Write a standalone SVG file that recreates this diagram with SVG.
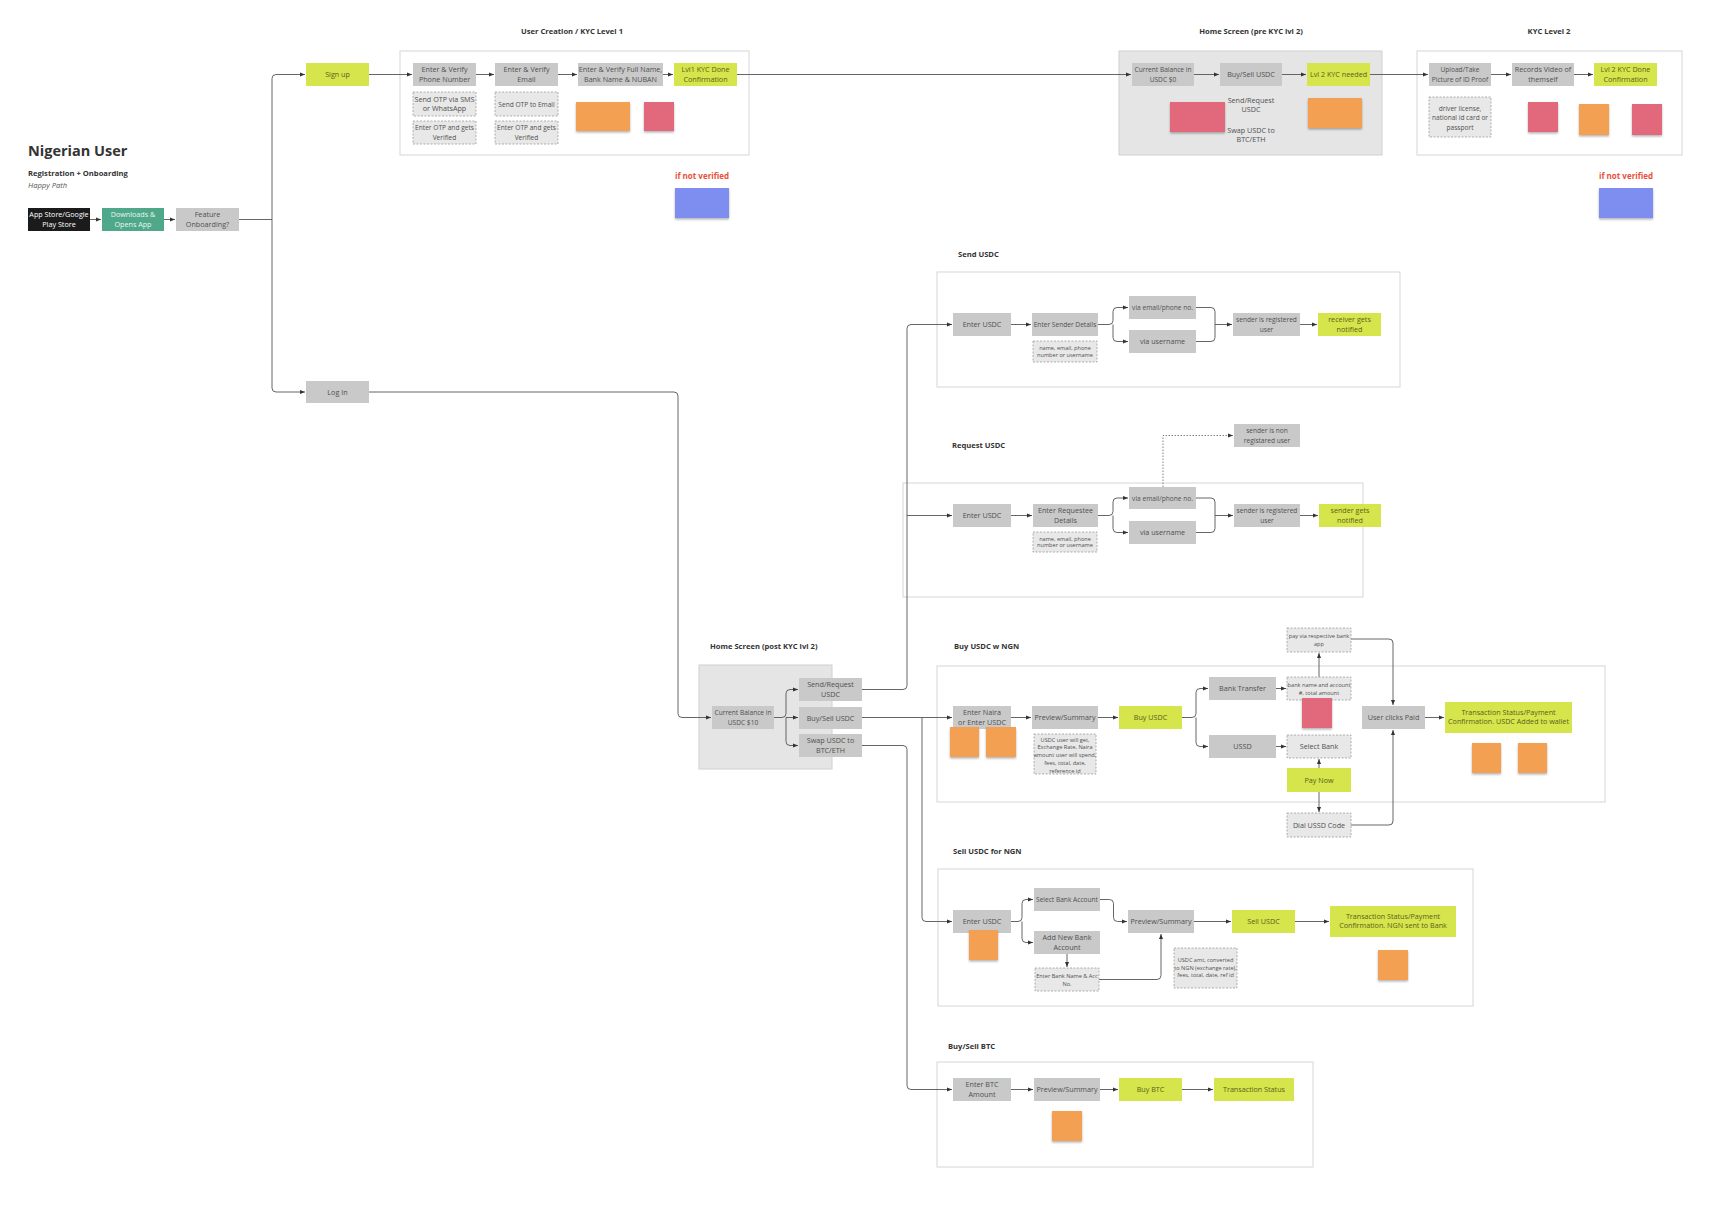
<svg xmlns="http://www.w3.org/2000/svg" width="1728" height="1216" viewBox="0 0 1728 1216">
<defs>
<style>
text{font-family:"Open Sans","Liberation Sans",sans-serif}
.bg{fill:#fff}
.c{fill:#fff;stroke:#d6d6d6;stroke-width:1}
.cg{fill:#e5e5e5;stroke:#d0d0d0;stroke-width:1}
.n{fill:#c9c9c9}
.d{fill:#e8e8e8;stroke:#9c9c9c;stroke-width:0.8;stroke-dasharray:2 1.5}
.g{fill:#d5e54b}
.t{font-size:7.2px;fill:#505050;text-anchor:middle}
.tn{font-size:6.6px}
.ts{font-size:5.6px;fill:#505050;text-anchor:middle}
.tg{font-size:7.2px;fill:#5a6120;text-anchor:middle}
.h{font-size:7.6px;font-weight:700;fill:#333}
.hc{text-anchor:middle}
.red{font-size:8px;font-weight:700;fill:#e8503a;text-anchor:middle}
.so{fill:#f4a052;filter:url(#sh)}
.sp{fill:#e2697c;filter:url(#sh)}
.sb{fill:#7d8df0;filter:url(#sh)}
.e{fill:none;stroke:#555;stroke-width:0.9;marker-end:url(#a)}
.l{fill:none;stroke:#555;stroke-width:0.9}
.dot{fill:none;stroke:#777;stroke-width:0.9;stroke-dasharray:1.5 1.5;marker-end:url(#a)}
</style>
<marker id="a" viewBox="0 0 6 6" refX="6" refY="3" markerWidth="5" markerHeight="5" orient="auto" markerUnits="userSpaceOnUse"><path d="M0,0.6 L6,3 L0,5.4z" fill="#333"/></marker>
<filter id="sh" x="-20%" y="-20%" width="140%" height="150%"><feDropShadow dx="0" dy="1.5" stdDeviation="1" flood-color="#000" flood-opacity="0.3"/></filter>
</defs>
<rect class="bg" x="0" y="0" width="1728" height="1216"/>

<g id="titles">
<text x="28" y="156" style="font-size:14.5px;font-weight:700;fill:#333">Nigerian User</text>
<text x="28" y="176" class="h">Registration + Onboarding</text>
<text x="28" y="188" style="font-size:7.6px;font-style:italic;fill:#555">Happy Path</text>
<text x="572" y="34" class="h hc">User Creation / KYC Level 1</text>
<text x="1251" y="34" class="h hc">Home Screen (pre KYC lvl 2)</text>
<text x="1549" y="34" class="h hc">KYC Level 2</text>
<text x="958" y="257" class="h">Send USDC</text>
<text x="952" y="448" class="h">Request USDC</text>
<text x="710" y="649" class="h">Home Screen (post KYC lvl 2)</text>
<text x="954" y="649" class="h">Buy USDC w NGN</text>
<text x="953" y="854" class="h">Sell USDC for NGN</text>
<text x="948" y="1049" class="h">Buy/Sell BTC</text>
<text x="702" y="179" class="red">if not verified</text>
<text x="1626" y="179" class="red">if not verified</text>
</g>

<g id="containers">
<rect class="c" x="400" y="51" width="349" height="104"/>
<rect class="cg" x="1119" y="51" width="263" height="104"/>
<rect class="c" x="1417" y="51" width="265" height="104"/>
<rect class="c" x="937" y="272" width="463" height="115"/>
<rect class="c" x="903" y="483" width="460" height="114"/>
<rect class="cg" x="699" y="665" width="133" height="104"/>
<rect class="c" x="937" y="666" width="668" height="136"/>
<rect class="c" x="938" y="869" width="535" height="137"/>
<rect class="c" x="937" y="1062" width="376" height="105"/>
</g>

<g id="connectors">
<path class="e" d="M90,219.5 H101"/>
<path class="e" d="M164,219.5 H175"/>
<path class="l" d="M239,219.5 H272"/>
<path class="e" d="M272,219.5 V78.5 Q272,74.5 276,74.5 H305"/>
<path class="e" d="M272,219.5 V388 Q272,392 276,392 H305"/>
<path class="e" d="M369,74.5 H412"/>
<path class="e" d="M476,74.5 H494"/>
<path class="e" d="M558,74.5 H577"/>
<path class="e" d="M663,74.5 H673"/>
<path class="e" d="M737,74.5 H1131"/>
<path class="e" d="M1194,74.5 H1219"/>
<path class="e" d="M1282,74.5 H1306"/>
<path class="e" d="M1370,74.5 H1428"/>
<path class="e" d="M1491,74.5 H1511"/>
<path class="e" d="M1574,74.5 H1593"/>
<path class="e" d="M369,392 H674 Q678,392 678,396 V713.5 Q678,717.5 682,717.5 H711"/>
<path class="e" d="M774,717.5 H782 Q786,717.5 786,713.5 V693.5 Q786,689.5 790,689.5 H798"/>
<path class="e" d="M786,717.5 H798"/>
<path class="e" d="M786,717.5 V741.5 Q786,745.5 790,745.5 H798"/>
<path class="e" d="M862,689.5 H903 Q907,689.5 907,685.5 V328.5 Q907,324.5 911,324.5 H952"/>
<path class="e" d="M907,515.5 H952"/>
<path class="e" d="M862,717.5 H952"/>
<path class="e" d="M922,717.5 V917.5 Q922,921.5 926,921.5 H952"/>
<path class="e" d="M862,745.5 H903 Q907,745.5 907,749.5 V1085.5 Q907,1089.5 911,1089.5 H952"/>
<path class="e" d="M1011,324.5 H1031"/>
<path class="e" d="M1098,324.5 H1109 Q1113,324.5 1113,320.5 V311.5 Q1113,307.5 1117,307.5 H1128"/>
<path class="e" d="M1113,324.5 V337.5 Q1113,341.5 1117,341.5 H1128"/>
<path class="l" d="M1196,307.5 H1211 Q1215,307.5 1215,311.5 V337.5 Q1215,341.5 1211,341.5 H1196"/>
<path class="e" d="M1215,324.5 H1232"/>
<path class="e" d="M1300,324.5 H1317"/>
<path class="e" d="M1011,515.5 H1032"/>
<path class="e" d="M1098,515.5 H1109 Q1113,515.5 1113,511.5 V502 Q1113,498 1117,498 H1128"/>
<path class="e" d="M1113,515.5 V528.5 Q1113,532.5 1117,532.5 H1128"/>
<path class="l" d="M1196,498 H1211 Q1215,498 1215,502 V528.5 Q1215,532.5 1211,532.5 H1196"/>
<path class="e" d="M1215,515.5 H1233"/>
<path class="e" d="M1300,515.5 H1318"/>
<path class="dot" d="M1163,487 V435.5 H1233"/>
<path class="e" d="M1011,717.5 H1031"/>
<path class="e" d="M1098,717.5 H1118"/>
<path class="e" d="M1182,717.5 H1192 Q1196,717.5 1196,713.5 V692.5 Q1196,688.5 1200,688.5 H1208"/>
<path class="e" d="M1196,717.5 V742.5 Q1196,746.5 1200,746.5 H1208"/>
<path class="e" d="M1276,688.5 H1286"/>
<path class="e" d="M1276,746.5 H1286"/>
<path class="e" d="M1319,677 V653"/>
<path class="e" d="M1319,768 V759"/>
<path class="e" d="M1319,792 V812"/>
<path class="e" d="M1351,639 H1389 Q1393,639 1393,643 V705"/>
<path class="e" d="M1351,825 H1389 Q1393,825 1393,821 V730"/>
<path class="e" d="M1425,717.5 H1444"/>
<path class="e" d="M1011,921.5 H1018 Q1022,921.5 1022,917.5 V903.5 Q1022,899.5 1026,899.5 H1033"/>
<path class="e" d="M1022,921.5 V938.5 Q1022,942.5 1026,942.5 H1033"/>
<path class="e" d="M1100,899.5 H1109.5 Q1113.5,899.5 1113.5,903.5 V917.5 Q1113.5,921.5 1117.5,921.5 H1127"/>
<path class="e" d="M1067,954 V967"/>
<path class="e" d="M1099,979.5 H1157 Q1161,979.5 1161,975.5 V934"/>
<path class="e" d="M1194,921.5 H1231"/>
<path class="e" d="M1295,921.5 H1329"/>
<path class="e" d="M1011,1089.5 H1033"/>
<path class="e" d="M1100,1089.5 H1118"/>
<path class="e" d="M1182,1089.5 H1213"/>
</g>

<g id="n-appstore"><rect x="28" y="208" width="62" height="23" fill="#1b1b1b"/><text class="t" style="fill:#fff" x="59" y="217.3">App Store/Google<tspan x="59" dy="9.3">Play Store</tspan></text></g>
<g id="n-downloads"><rect x="102" y="208" width="62" height="23" fill="#4fa88a"/><text class="t" style="fill:#e9f5ef" x="133" y="217.3">Downloads &amp;<tspan x="133" dy="9.3">Opens App</tspan></text></g>
<g id="n-feature"><rect class="n" x="176" y="208" width="63" height="23"/><text class="t" x="207.5" y="217.3">Feature<tspan x="207.5" dy="9.3">Onboarding?</tspan></text></g>
<g id="n-signup"><rect class="g" x="306" y="63" width="63" height="23"/><text class="tg" x="337.5" y="77">Sign up</text></g>
<g id="n-login"><rect class="n" x="306" y="381" width="63" height="22"/><text class="t" x="337.5" y="394.5">Log In</text></g>

<g id="n-phone"><rect class="n" x="413" y="63" width="63" height="23"/><text class="t" x="444.5" y="72.3">Enter  &amp; Verify<tspan x="444.5" dy="9.3">Phone Number</tspan></text></g>
<g id="n-otp-sms"><rect class="d" x="413" y="92" width="63" height="24"/><text class="t" x="444.5" y="101.7">Send OTP via SMS<tspan x="444.5" dy="9.3">or WhatsApp</tspan></text></g>
<g id="n-otp-verify1"><rect class="d" x="413" y="121" width="63" height="23"/><text class="t tn" x="444.5" y="130.3">Enter OTP and gets<tspan x="444.5" dy="9.3">Verified</tspan></text></g>
<g id="n-email"><rect class="n" x="495" y="63" width="63" height="23"/><text class="t" x="526.5" y="72.3">Enter &amp; Verify<tspan x="526.5" dy="9.3">Email</tspan></text></g>
<g id="n-otp-email"><rect class="d" x="495" y="92" width="63" height="24"/><text class="t tn" x="526.5" y="106.5">Send OTP to Email</text></g>
<g id="n-otp-verify2"><rect class="d" x="495" y="121" width="63" height="23"/><text class="t tn" x="526.5" y="130.3">Enter OTP and gets<tspan x="526.5" dy="9.3">Verified</tspan></text></g>
<g id="n-fullname"><rect class="n" x="578" y="63" width="85" height="23"/><text class="t" x="620.5" y="72.3">Enter &amp; Verify Full Name,<tspan x="620.5" dy="9.3">Bank Name &amp; NUBAN</tspan></text></g>
<g id="n-lvl1"><rect class="g" x="674" y="63" width="63" height="23"/><text class="tg" x="705.5" y="72.3">Lvl1 KYC Done<tspan x="705.5" dy="9.3">Confirmation</tspan></text></g>
<g id="s-kyc1"><rect class="so" x="576" y="102" width="54" height="29"/><rect class="sp" x="644" y="102" width="30" height="29"/><rect class="sb" x="675" y="188" width="54" height="30"/></g>

<g id="n-bal0"><rect class="n" x="1132" y="63" width="62" height="23"/><text class="t tn" x="1163" y="72.3">Current Balance in<tspan x="1163" dy="9.3">USDC $0</tspan></text></g>
<g id="n-buysell0"><rect class="n" x="1220" y="63" width="62" height="23"/><text class="t" x="1251" y="77">Buy/Sell USDC</text></g>
<g id="n-lvl2needed"><rect class="g" x="1307" y="63" width="63" height="23"/><text class="tg" x="1338.5" y="77">Lvl 2 KYC needed</text></g>
<g id="n-sendreq0"><text class="t" x="1251" y="103">Send/Request<tspan x="1251" dy="9.3">USDC</tspan></text></g>
<g id="n-swap0"><text class="t" x="1251" y="133">Swap USDC to<tspan x="1251" dy="9.3">BTC/ETH</tspan></text></g>
<g id="s-home0"><rect class="sp" x="1170" y="102" width="55" height="30"/><rect class="so" x="1308" y="98" width="54" height="30"/></g>

<g id="n-upload"><rect class="n" x="1429" y="63" width="62" height="23"/><text class="t tn" x="1460" y="72.3">Upload/Take<tspan x="1460" dy="9.3">Picture of ID Proof</tspan></text></g>
<g id="n-video"><rect class="n" x="1512" y="63" width="62" height="23"/><text class="t" x="1543" y="72.3">Records Video of<tspan x="1543" dy="9.3">themself</tspan></text></g>
<g id="n-lvl2done"><rect class="g" x="1594" y="63" width="63" height="23"/><text class="tg" x="1625.5" y="72.3">Lvl 2 KYC Done<tspan x="1625.5" dy="9.3">Confirmation</tspan></text></g>
<g id="n-driver"><rect class="d" x="1429" y="97" width="62" height="40"/><text class="t tn" x="1460" y="110.5">driver license,<tspan x="1460" dy="9.5">national id card or</tspan><tspan x="1460" dy="9.5">passport</tspan></text></g>
<g id="s-kyc2"><rect class="sp" x="1528" y="102" width="30" height="30"/><rect class="so" x="1579" y="104" width="30" height="31"/><rect class="sp" x="1632" y="104" width="30" height="31"/><rect class="sb" x="1599" y="188" width="54" height="30"/></g>

<g id="n-enter-usdc-s"><rect class="n" x="953" y="313" width="58" height="23"/><text class="t" x="982" y="327">Enter USDC</text></g>
<g id="n-sender-details"><rect class="n" x="1032" y="313" width="66" height="23"/><text class="t tn" x="1065" y="327">Enter Sender Details</text></g>
<g id="n-name-s"><rect class="d" x="1033" y="341" width="64" height="21"/><text class="ts" x="1065" y="350">name, email, phone<tspan x="1065" dy="6.8">number or username</tspan></text></g>
<g id="n-via-email-s"><rect class="n" x="1129" y="296" width="67" height="23"/><text class="t tn" x="1162.5" y="310">via email/phone no.</text></g>
<g id="n-via-user-s"><rect class="n" x="1129" y="330" width="67" height="23"/><text class="t" x="1162.5" y="344">via username</text></g>
<g id="n-reg-s"><rect class="n" x="1233" y="313" width="67" height="23"/><text class="t tn" x="1266.5" y="322.3">sender is registered<tspan x="1266.5" dy="9.3">user</tspan></text></g>
<g id="n-notified-s"><rect class="g" x="1318" y="313" width="63" height="23"/><text class="tg" x="1349.5" y="322.3">receiver gets<tspan x="1349.5" dy="9.3">notified</tspan></text></g>

<g id="n-enter-usdc-r"><rect class="n" x="953" y="504" width="58" height="23"/><text class="t" x="982" y="518">Enter USDC</text></g>
<g id="n-requestee"><rect class="n" x="1033" y="504" width="65" height="23"/><text class="t" x="1065.5" y="513.3">Enter Requestee<tspan x="1065.5" dy="9.3">Details</tspan></text></g>
<g id="n-name-r"><rect class="d" x="1033" y="532" width="64" height="20"/><text class="ts" x="1065" y="540.5">name, email, phone<tspan x="1065" dy="6.8">number or username</tspan></text></g>
<g id="n-via-email-r"><rect class="n" x="1129" y="487" width="67" height="22"/><text class="t tn" x="1162.5" y="500.5">via email/phone no.</text></g>
<g id="n-via-user-r"><rect class="n" x="1129" y="521" width="67" height="23"/><text class="t" x="1162.5" y="535">via username</text></g>
<g id="n-reg-r"><rect class="n" x="1234" y="504" width="66" height="23"/><text class="t tn" x="1267" y="513.3">sender is registered<tspan x="1267" dy="9.3">user</tspan></text></g>
<g id="n-notified-r"><rect class="g" x="1319" y="504" width="62" height="23"/><text class="tg" x="1350" y="513.3">sender gets<tspan x="1350" dy="9.3">notified</tspan></text></g>
<g id="n-nonreg"><rect class="n" x="1234" y="424" width="66" height="23"/><text class="t tn" x="1267" y="433.3">sender is non<tspan x="1267" dy="9.3">registared user</tspan></text></g>

<g id="n-bal10"><rect class="n" x="712" y="706" width="62" height="23"/><text class="t tn" x="743" y="715.3">Current Balance in<tspan x="743" dy="9.3">USDC $10</tspan></text></g>
<g id="n-sendreq"><rect class="n" x="799" y="678" width="63" height="23"/><text class="t" x="830.5" y="687.3">Send/Request<tspan x="830.5" dy="9.3">USDC</tspan></text></g>
<g id="n-buysell"><rect class="n" x="799" y="707" width="63" height="22"/><text class="t" x="830.5" y="720.5">Buy/Sell USDC</text></g>
<g id="n-swap"><rect class="n" x="799" y="734" width="63" height="23"/><text class="t" x="830.5" y="743.3">Swap USDC to<tspan x="830.5" dy="9.3">BTC/ETH</tspan></text></g>

<g id="n-enter-naira"><rect class="n" x="953" y="706" width="58" height="23"/><text class="t" x="982" y="715.3">Enter Naira<tspan x="982" dy="9.3">or Enter USDC</tspan></text></g>
<g id="n-preview-b"><rect class="n" x="1032" y="706" width="66" height="23"/><text class="t" x="1065" y="720">Preview/Summary</text></g>
<g id="n-summary-b"><rect class="d" x="1034" y="734" width="62" height="40"/><text class="ts" x="1065" y="741.5">USDC user will get,<tspan x="1065" dy="7.8">Exchange Rate, Naira</tspan><tspan x="1065" dy="7.8">amount user will spend,</tspan><tspan x="1065" dy="7.8">fees, total, date,</tspan><tspan x="1065" dy="7.8">reference id</tspan></text></g>
<g id="n-buy-usdc"><rect class="g" x="1119" y="706" width="63" height="23"/><text class="tg" x="1150.5" y="720">Buy USDC</text></g>
<g id="n-bank-transfer"><rect class="n" x="1209" y="677" width="67" height="23"/><text class="t" x="1242.5" y="691">Bank Transfer</text></g>
<g id="n-ussd"><rect class="n" x="1209" y="735" width="67" height="23"/><text class="t" x="1242.5" y="749">USSD</text></g>
<g id="n-bank-name"><rect class="d" x="1287" y="677" width="64" height="23"/><text class="ts" x="1319" y="686.5">bank name and account<tspan x="1319" dy="8">#, total amount</tspan></text></g>
<g id="n-pay-via"><rect class="d" x="1287" y="628" width="64" height="24"/><text class="ts" x="1319" y="637.5">pay via respective bank<tspan x="1319" dy="8">app</tspan></text></g>
<g id="n-select-bank"><rect class="d" x="1287" y="735" width="64" height="23"/><text class="t" x="1319" y="749">Select Bank</text></g>
<g id="n-pay-now"><rect class="g" x="1287" y="768" width="64" height="24"/><text class="tg" x="1319" y="782.5">Pay Now</text></g>
<g id="n-dial"><rect class="d" x="1287" y="813" width="64" height="24"/><text class="t" x="1319" y="827.5">Dial USSD Code</text></g>
<g id="n-user-paid"><rect class="n" x="1362" y="706" width="63" height="23"/><text class="t" x="1393.5" y="720">User clicks Paid</text></g>
<g id="n-tx-buy"><rect class="g" x="1445" y="702" width="127" height="31"/><text class="tg" x="1508.5" y="714.5">Transaction Status/Payment<tspan x="1508.5" dy="9.5">Confirmation. USDC Added to wallet</tspan></text></g>
<g id="s-buy"><rect class="so" x="950" y="727" width="29" height="30"/><rect class="so" x="986" y="727" width="30" height="30"/><rect class="sp" x="1302" y="698" width="30" height="30"/><rect class="so" x="1472" y="743" width="29" height="30"/><rect class="so" x="1518" y="743" width="29" height="30"/></g>

<g id="n-enter-usdc-sell"><rect class="n" x="953" y="910" width="58" height="23"/><text class="t" x="982" y="924">Enter USDC</text></g>
<g id="n-select-account"><rect class="n" x="1034" y="888" width="66" height="23"/><text class="t tn" x="1067" y="902">Select Bank Account</text></g>
<g id="n-add-account"><rect class="n" x="1034" y="931" width="66" height="23"/><text class="t" x="1067" y="940.3">Add New Bank<tspan x="1067" dy="9.3">Account</tspan></text></g>
<g id="n-enter-bank"><rect class="d" x="1035" y="968" width="64" height="23"/><text class="ts" x="1067" y="977.5">Enter Bank Name &amp; Acc<tspan x="1067" dy="8">No.</tspan></text></g>
<g id="n-preview-s"><rect class="n" x="1128" y="910" width="66" height="23"/><text class="t" x="1161" y="924">Preview/Summary</text></g>
<g id="n-sell-note"><rect class="d" x="1174" y="948" width="63" height="40"/><text class="ts" x="1205.5" y="962">USDC amt, converted<tspan x="1205.5" dy="7.6">to NGN (exchange rate),</tspan><tspan x="1205.5" dy="7.6">fees, total, date, ref id</tspan></text></g>
<g id="n-sell-usdc"><rect class="g" x="1232" y="910" width="63" height="23"/><text class="tg" x="1263.5" y="924">Sell USDC</text></g>
<g id="n-tx-sell"><rect class="g" x="1330" y="906" width="126" height="31"/><text class="tg" x="1393" y="918.5">Transaction Status/Payment<tspan x="1393" dy="9.5">Confirmation. NGN sent to Bank</tspan></text></g>
<g id="s-sell"><rect class="so" x="969" y="930" width="29" height="30"/><rect class="so" x="1378" y="950" width="30" height="30"/></g>

<g id="n-enter-btc"><rect class="n" x="953" y="1078" width="58" height="23"/><text class="t" x="982" y="1087.3">Enter BTC<tspan x="982" dy="9.3">Amount</tspan></text></g>
<g id="n-preview-btc"><rect class="n" x="1034" y="1078" width="66" height="23"/><text class="t" x="1067" y="1092">Preview/Summary</text></g>
<g id="n-buy-btc"><rect class="g" x="1119" y="1078" width="63" height="23"/><text class="tg" x="1150.5" y="1092">Buy BTC</text></g>
<g id="n-tx-btc"><rect class="g" x="1214" y="1078" width="80" height="23"/><text class="tg" x="1254" y="1092">Transaction Status</text></g>
<g id="s-btc"><rect class="so" x="1052" y="1111" width="30" height="30"/></g>
</svg>
